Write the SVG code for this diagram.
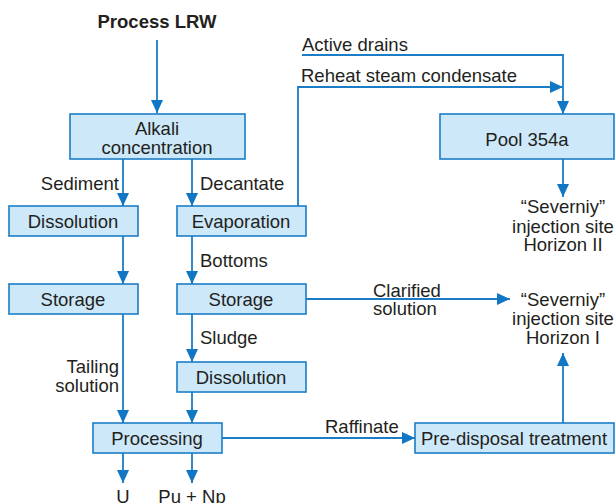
<svg xmlns="http://www.w3.org/2000/svg" width="615" height="503" viewBox="0 0 615 503">
<style>
text{font-family:"Liberation Sans",Arial,sans-serif;font-size:18.5px;fill:#231f20}
.c{text-anchor:middle}
.r{text-anchor:end}
.b{font-weight:bold}
rect{fill:#cce8f9;stroke:#1b7dc6;stroke-width:1.6}
.ln{fill:none;stroke:#1b7dc6;stroke-width:1.8}
</style>
<defs>
<marker id="a" markerUnits="userSpaceOnUse" markerWidth="13" markerHeight="12" refX="13" refY="6" orient="auto">
<path d="M0,0L13,6L0,12z" fill="#1177c4"/>
</marker>
</defs>
<text class="c b" x="157" y="28">Process LRW</text>
<g id="connectors">
<path class="ln" d="M157,40V113" marker-end="url(#a)"/>
<path class="ln" d="M123,159V206" marker-end="url(#a)"/>
<path class="ln" d="M192,159V206" marker-end="url(#a)"/>
<path class="ln" d="M298,206V87H563" marker-end="url(#a)"/>
<path class="ln" d="M302,55H563V114" marker-end="url(#a)"/>
<path class="ln" d="M563,159V197" marker-end="url(#a)"/>
<path class="ln" d="M123,236V284" marker-end="url(#a)"/>
<path class="ln" d="M192,236V284" marker-end="url(#a)"/>
<path class="ln" d="M306,299H510" marker-end="url(#a)"/>
<path class="ln" d="M192,314V362" marker-end="url(#a)"/>
<path class="ln" d="M123,314V423" marker-end="url(#a)"/>
<path class="ln" d="M192,392V423" marker-end="url(#a)"/>
<path class="ln" d="M123,453V483" marker-end="url(#a)"/>
<path class="ln" d="M192,453V483" marker-end="url(#a)"/>
<path class="ln" d="M222,438H415" marker-end="url(#a)"/>
<path class="ln" d="M563,423V353" marker-end="url(#a)"/>
<text x="302" y="51">Active drains</text>
<text x="301" y="82">Reheat steam condensate</text>
<text class="r" x="119" y="190">Sediment</text>
<text x="200" y="190">Decantate</text>
<text x="200" y="267">Bottoms</text>
<text x="200" y="344">Sludge</text>
<text class="r" x="119" y="373">Tailing</text>
<text class="r" x="119" y="392">solution</text>
<text x="373" y="297">Clarified</text>
<text x="373" y="315">solution</text>
<text x="325" y="433">Raffinate</text>
<text class="c" x="123" y="503">U</text>
<text class="c" x="192" y="503">Pu + Np</text>
</g>
<g id="alkali"><rect x="70" y="114" width="175" height="45"/><text class="c" x="157" y="135">Alkali</text><text class="c" x="157" y="154">concentration</text></g>
<g id="dissolution1"><rect x="9" y="206" width="129" height="30"/><text class="c" x="73" y="228">Dissolution</text></g>
<g id="evaporation"><rect x="177" y="206" width="129" height="30"/><text class="c" x="241" y="228">Evaporation</text></g>
<g id="pool"><rect x="440" y="114" width="174" height="45"/><text class="c" x="527" y="146">Pool 354a</text></g>
<g id="site2"><text class="c" x="563" y="213">“Severniy”</text><text class="c" x="563" y="233">injection site</text><text class="c" x="563" y="251">Horizon II</text></g>
<g id="storage1"><rect x="9" y="284" width="129" height="30"/><text class="c" x="73" y="306">Storage</text></g>
<g id="storage2"><rect x="177" y="284" width="129" height="30"/><text class="c" x="241" y="306">Storage</text></g>
<g id="site1"><text class="c" x="563" y="306">“Severniy”</text><text class="c" x="563" y="325">injection site</text><text class="c" x="563" y="344">Horizon I</text></g>
<g id="dissolution2"><rect x="177" y="362" width="129" height="30"/><text class="c" x="241" y="384">Dissolution</text></g>
<g id="processing"><rect x="93" y="423" width="129" height="30"/><text class="c" x="157" y="445">Processing</text></g>
<g id="predisposal"><rect x="415" y="423" width="199" height="30"/><text class="c" x="514" y="445">Pre-disposal treatment</text></g>
</svg>
